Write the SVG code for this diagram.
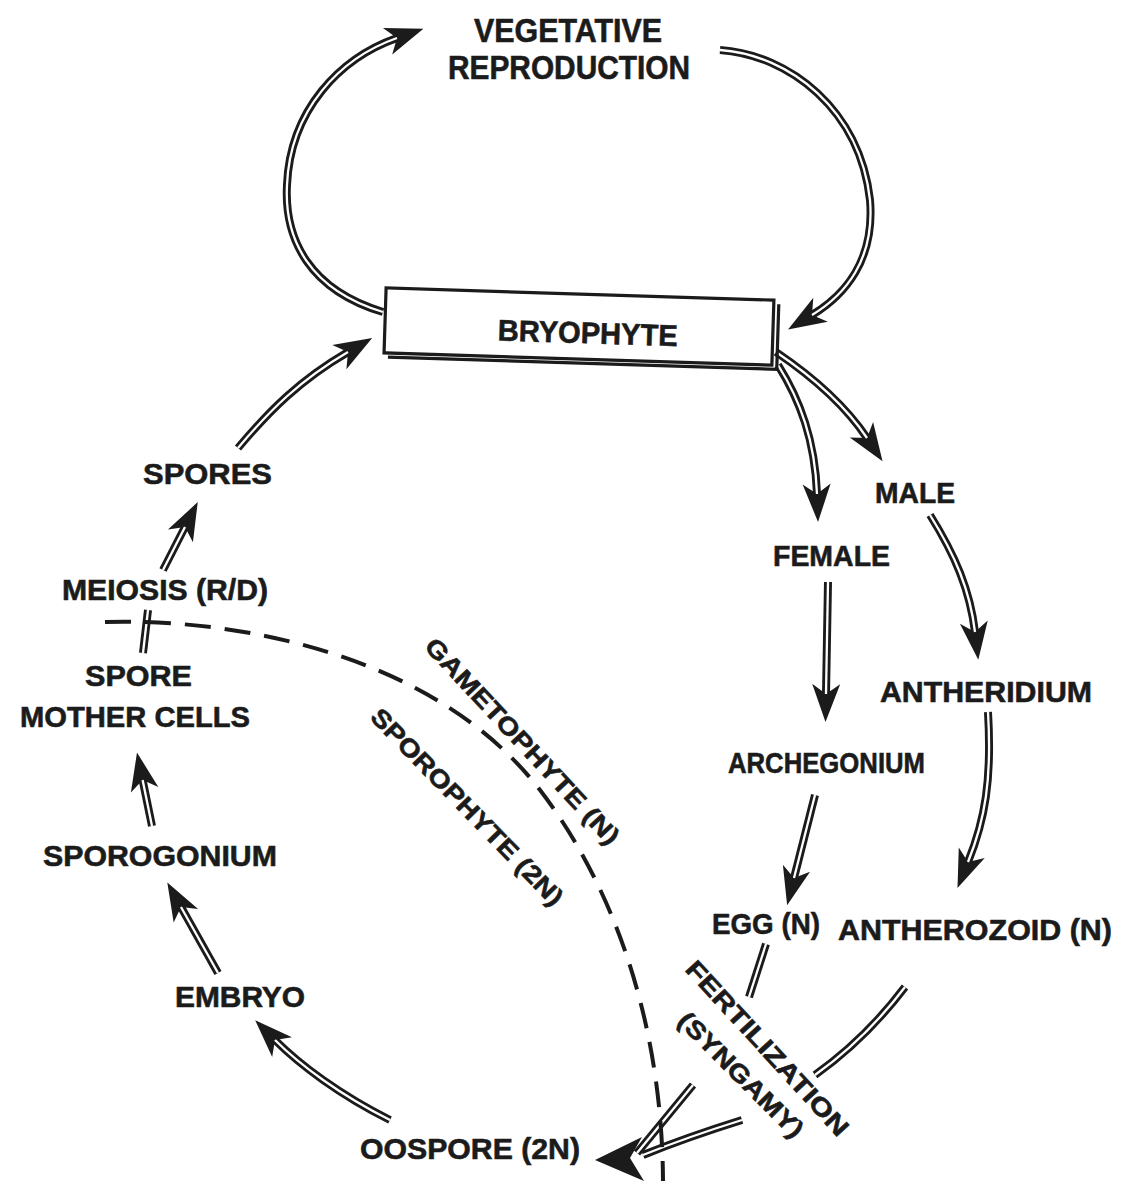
<svg xmlns="http://www.w3.org/2000/svg" width="1122" height="1181" viewBox="0 0 1122 1181">
<defs>
<style>
.t{font-family:"Liberation Sans",Arial,Helvetica,sans-serif;font-weight:bold;font-size:30px;fill:#1b1b1b;stroke:#1b1b1b;stroke-width:0.6}
.tr{font-size:25px}
.tb{font-size:33px}
.ob{fill:none;stroke:#1b1b1b;stroke-width:8;stroke-linecap:butt}
.iw{fill:none;stroke:#ffffff;stroke-width:2.3;stroke-linecap:butt}
.ah{marker-end:url(#head)}
.dash{fill:none;stroke:#1b1b1b;stroke-width:4;stroke-dasharray:26 14}
.box{fill:#ffffff;stroke:#1b1b1b;stroke-width:3.2}
</style>
<marker id="head" markerUnits="userSpaceOnUse" viewBox="-12 -16 44 32" refX="0" refY="0" markerWidth="44" markerHeight="32" orient="auto" overflow="visible">
<path d="M0,0 L-10,-14 L28,0 L-10,14 Z" fill="#1b1b1b"/>
</marker>
</defs>
<rect x="0" y="0" width="1122" height="1181" fill="#ffffff"/>

<g id="connectors">
<path class="ob ah" d="M383,312 C310,290 284,240 287,185 C290,110 340,58 397,38"/>
<path class="iw" d="M383,312 C310,290 284,240 287,185 C290,110 340,58 397,38"/>
<path class="ob ah" d="M720,50 C790,55 860,110 870,200 C875,260 845,295 812,315"/>
<path class="iw" d="M720,50 C790,55 860,110 870,200 C875,260 845,295 812,315"/>
<path class="ob ah" d="M238,448 C270,410 300,380 348,352"/>
<path class="iw" d="M238,448 C270,410 300,380 348,352"/>
<path class="ob ah" d="M163,570 L185,527"/>
<path class="iw" d="M163,570 L185,527"/>
<path class="ob" d="M143,653 L148,610"/>
<path class="iw" d="M143,653 L148,610"/>
<path class="ob ah" d="M152,826 L142.6,780"/>
<path class="iw" d="M152,826 L142.6,780"/>
<path class="ob ah" d="M218,973 L181,907"/>
<path class="iw" d="M218,973 L181,907"/>
<path class="ob ah" d="M390,1120 C340,1095 300,1065 275,1040"/>
<path class="iw" d="M390,1120 C340,1095 300,1065 275,1040"/>
<path class="ob ah" d="M776,352 C810,375 845,405 867,438"/>
<path class="iw" d="M776,352 C810,375 845,405 867,438"/>
<path class="ob ah" d="M778,365 C800,400 815,440 817,494"/>
<path class="iw" d="M778,365 C800,400 815,440 817,494"/>
<path class="ob ah" d="M828,582 L826,694"/>
<path class="iw" d="M828,582 L826,694"/>
<path class="ob ah" d="M930,515 C955,555 970,590 975,632"/>
<path class="iw" d="M930,515 C955,555 970,590 975,632"/>
<path class="ob ah" d="M988,712 C992,780 985,820 968,862"/>
<path class="iw" d="M988,712 C992,780 985,820 968,862"/>
<path class="ob ah" d="M815,795 L794,878"/>
<path class="iw" d="M815,795 L794,878"/>
<path class="ob" d="M766,944 L749,997"/>
<path class="iw" d="M766,944 L749,997"/>
<path class="ob" d="M693,1085 L637,1153"/>
<path class="iw" d="M693,1085 L637,1153"/>
<path class="ob" d="M905,987 C880,1020 850,1050 815,1075"/>
<path class="iw" d="M905,987 C880,1020 850,1050 815,1075"/>
<path class="ob" d="M742,1120 C710,1130 680,1140 643,1155"/>
<path class="iw" d="M742,1120 C710,1130 680,1140 643,1155"/>
<path d="M595,1160 L642,1137 L630,1158 L644,1181 Z" fill="#1b1b1b"/>
<path class="dash" d="M105,622 C250,618 440,660 540,790 C600,868 662,1000 663,1181"/>
</g>

<g id="vegetative-reproduction">
<text class="t tb" x="474" y="42" textLength="188" lengthAdjust="spacingAndGlyphs">VEGETATIVE</text>
<text class="t tb" x="448" y="79" textLength="242" lengthAdjust="spacingAndGlyphs">REPRODUCTION</text>
</g>
<g id="bryophyte" transform="rotate(1.8 578 326)">
<path d="M389,363 L778,363 L778,298" fill="none" stroke="#1b1b1b" stroke-width="3.2"/>
<rect class="box" x="385" y="294" width="388" height="65"/>
<text class="t" x="498" y="343" font-size="32" textLength="180" lengthAdjust="spacingAndGlyphs">BRYOPHYTE</text>
</g>
<g id="spores"><text class="t" x="143" y="484" textLength="129" lengthAdjust="spacingAndGlyphs">SPORES</text></g>
<g id="meiosis"><text class="t" x="62" y="600" textLength="206" lengthAdjust="spacingAndGlyphs">MEIOSIS (R/D)</text></g>
<g id="spore-mother-cells">
<text class="t" x="85" y="686" textLength="107" lengthAdjust="spacingAndGlyphs">SPORE</text>
<text class="t" x="20" y="727" textLength="230" lengthAdjust="spacingAndGlyphs">MOTHER CELLS</text>
</g>
<g id="sporogonium"><text class="t" x="43" y="866" textLength="234" lengthAdjust="spacingAndGlyphs">SPOROGONIUM</text></g>
<g id="embryo"><text class="t" x="175" y="1007" textLength="130" lengthAdjust="spacingAndGlyphs">EMBRYO</text></g>
<g id="oospore"><text class="t" x="360" y="1159" textLength="220" lengthAdjust="spacingAndGlyphs">OOSPORE (2N)</text></g>
<g id="male"><text class="t" x="875" y="503" textLength="80" lengthAdjust="spacingAndGlyphs">MALE</text></g>
<g id="female"><text class="t" x="773" y="566" textLength="117" lengthAdjust="spacingAndGlyphs">FEMALE</text></g>
<g id="antheridium"><text class="t" x="880" y="702" textLength="212" lengthAdjust="spacingAndGlyphs">ANTHERIDIUM</text></g>
<g id="archegonium"><text class="t" x="728" y="773" textLength="197" lengthAdjust="spacingAndGlyphs">ARCHEGONIUM</text></g>
<g id="egg"><text class="t" x="712" y="934" textLength="108" lengthAdjust="spacingAndGlyphs">EGG (N)</text></g>
<g id="antherozoid"><text class="t" x="838" y="940" textLength="274" lengthAdjust="spacingAndGlyphs">ANTHEROZOID (N)</text></g>
<g id="gametophyte-label" transform="translate(516,747) rotate(47)">
<text class="t tr" x="-136" y="0" textLength="272" lengthAdjust="spacingAndGlyphs">GAMETOPHYTE (N)</text>
</g>
<g id="sporophyte-label" transform="translate(461,813) rotate(45.8)">
<text class="t tr" x="-132" y="0" textLength="264" lengthAdjust="spacingAndGlyphs">SPOROPHYTE (2N)</text>
</g>
<g id="fertilization" transform="translate(761,1054) rotate(47.5)">
<text class="t tr" x="-114" y="0" textLength="228" lengthAdjust="spacingAndGlyphs">FERTILIZATION</text>
</g>
<g id="syngamy" transform="translate(735,1081) rotate(45)">
<text class="t tr" x="-83" y="0" textLength="166" lengthAdjust="spacingAndGlyphs">(SYNGAMY)</text>
</g>
</svg>
